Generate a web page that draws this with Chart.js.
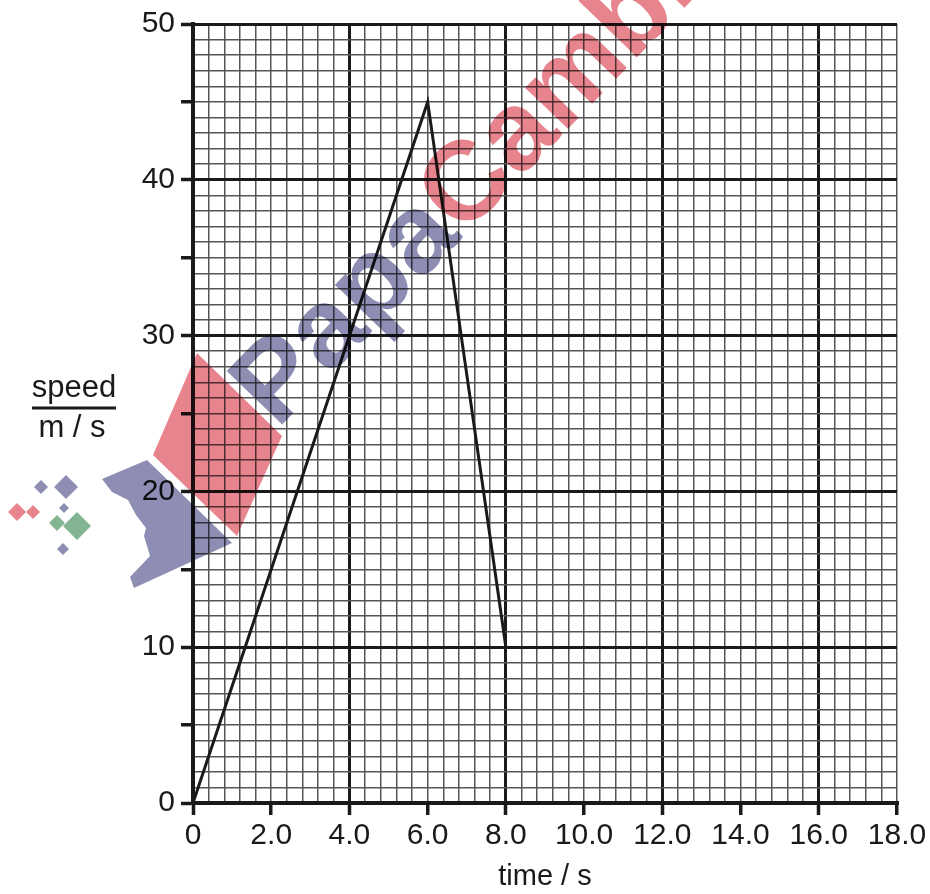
<!DOCTYPE html>
<html>
<head>
<meta charset="utf-8">
<script src="https://cdn.jsdelivr.net/npm/chart.js@4.4.1/dist/chart.umd.min.js"></script>
<style>
  html, body { margin: 0; padding: 0; background: #ffffff; }
  #wrap { width: 930px; height: 894px; }
</style>
</head>
<body>
<div id="wrap"><canvas id="c" width="930" height="894"></canvas></div>
<script>
// ---- data ----
const timeValues  = [0, 6, 8];      // s
const speedValues = [0, 45, 10];    // m/s
const xTickLabels = ['0', '2.0', '4.0', '6.0', '8.0', '10.0', '12.0', '14.0', '16.0', '18.0'];
const yTickLabels = ['0', '10', '20', '30', '40', '50'];
const xRange = [0, 18];
const yRange = [0, 50];
const xMinorStep = 0.4, xLabelStep = 2, xMajorStep = 4;
const yMinorStep = 1, yTickStep = 5, yLabelStep = 10, yMajorStep = 10;

const INK = '#1a1a1a';
const MINOR = '#555555';
const FONT = "'Liberation Sans', Arial, sans-serif";

function isMult(v, step) {
  const r = v / step;
  return Math.abs(r - Math.round(r)) < 1e-6;
}

const points = timeValues.map((t, i) => ({ x: t, y: speedValues[i] }));

const yTitlePlugin = {
  id: 'yTitle',
  afterDraw(chart) {
    const ctx = chart.ctx;
    ctx.save();
    ctx.fillStyle = INK;
    ctx.font = '31px ' + FONT;
    ctx.textAlign = 'center';
    ctx.textBaseline = 'alphabetic';
    ctx.fillText('speed', 74, 397);
    ctx.fillText('m / s', 72, 437);
    ctx.strokeStyle = INK;
    ctx.lineWidth = 3;
    ctx.beginPath();
    ctx.moveTo(32, 408);
    ctx.lineTo(116, 408);
    ctx.stroke();
    ctx.restore();
  }
};

const watermarkPlugin = {
  id: 'watermark',
  afterDraw(chart) {
    const ctx = chart.ctx;
    ctx.save();
    ctx.globalCompositeOperation = 'multiply';
    const blue = '#8e8eb4', red = '#e8848e', green = '#84b592';
    // logo square
    ctx.fillStyle = red;
    ctx.beginPath();
    ctx.moveTo(197, 353); ctx.lineTo(282, 436); ctx.lineTo(237, 536); ctx.lineTo(153, 455);
    ctx.closePath(); ctx.fill();
    // logo silhouette
    ctx.fillStyle = blue;
    ctx.beginPath();
    ctx.moveTo(102, 479); ctx.lineTo(147, 460); ctx.lineTo(232, 543);
    ctx.lineTo(134, 588); ctx.lineTo(130, 577); ctx.lineTo(150, 556);
    ctx.lineTo(144, 536); ctx.lineTo(146, 528); ctx.lineTo(136, 515);
    ctx.lineTo(128, 500); ctx.lineTo(112, 492);
    ctx.closePath(); ctx.fill();
    // diamonds
    const dia = (cx, cy, h, col) => {
      ctx.fillStyle = col;
      ctx.beginPath();
      ctx.moveTo(cx, cy - h); ctx.lineTo(cx + h, cy); ctx.lineTo(cx, cy + h); ctx.lineTo(cx - h, cy);
      ctx.closePath(); ctx.fill();
    };
    dia(41, 487, 7, blue); dia(66, 487, 12, blue); dia(64, 508, 5, blue); dia(63, 549, 6, blue);
    dia(17, 512, 9, red); dia(33, 512, 7, red);
    dia(57, 523, 8, green); dia(77, 526, 14, green);
    // text
    ctx.translate(277, 430);
    ctx.rotate(-46 * Math.PI / 180);
    ctx.font = 'bold 112px ' + FONT;
    ctx.textBaseline = 'alphabetic';
    ctx.textAlign = 'left';
    ctx.fillStyle = blue;
    ctx.fillText('Papa', 0, 0);
    const w = ctx.measureText('Papa').width;
    ctx.fillStyle = red;
    ctx.fillText('Cambridge', w, 0);
    ctx.restore();
  }
};

new Chart(document.getElementById('c'), {
  type: 'scatter',
  data: {
    datasets: [{
      data: points,
      showLine: true,
      borderColor: INK,
      borderWidth: 3,
      pointRadius: 0,
      tension: 0,
      fill: false
    }]
  },
  options: {
    responsive: false,
    devicePixelRatio: 1,
    animation: false,
    layout: { padding: { top: 22, right: 33, left: 0, bottom: 0 } },
    plugins: { legend: { display: false }, tooltip: { enabled: false } },
    scales: {
      x: {
        type: 'linear',
        min: xRange[0], max: xRange[1],
        afterFit(s) { s.height = 91; },
        border: { display: true, color: INK, width: 4 },
        grid: {
          drawOnChartArea: true,
          color: c => isMult(c.tick.value, xMajorStep) ? INK : MINOR,
          lineWidth: c => isMult(c.tick.value, xMajorStep) ? 3 : 1.5,
          tickColor: c => isMult(c.tick.value, xLabelStep) ? INK : 'rgba(0,0,0,0)',
          tickWidth: 3.5,
          tickLength: 12
        },
        ticks: {
          stepSize: xMinorStep,
          autoSkip: false,
          maxRotation: 0,
          padding: 3,
          color: INK,
          font: { family: FONT, size: 30 },
          callback(v) {
            if (!isMult(v, xLabelStep)) return '';
            const idx = Math.round(v / xLabelStep);
            return xTickLabels[idx] ?? '';
          }
        },
        title: {
          display: true,
          text: 'time / s',
          color: INK,
          font: { family: FONT, size: 29 },
          padding: { top: 0, bottom: 0 }
        }
      },
      y: {
        type: 'linear',
        min: yRange[0], max: yRange[1],
        afterFit(s) { s.width = 193; },
        border: { display: true, color: INK, width: 4 },
        grid: {
          color: c => isMult(c.tick.value, yMajorStep) ? INK : MINOR,
          lineWidth: c => isMult(c.tick.value, yMajorStep) ? 3 : 1.5,
          tickColor: c => isMult(c.tick.value, yTickStep) ? INK : 'rgba(0,0,0,0)',
          tickWidth: 3.5,
          tickLength: 12
        },
        ticks: {
          stepSize: yMinorStep,
          autoSkip: false,
          padding: 6,
          color: INK,
          font: { family: FONT, size: 30 },
          callback(v) {
            if (!isMult(v, yLabelStep)) return '';
            const idx = Math.round(v / yLabelStep);
            return yTickLabels[idx] ?? '';
          }
        }
      }
    }
  },
  plugins: [yTitlePlugin, watermarkPlugin]
});
</script>
</body>
</html>
